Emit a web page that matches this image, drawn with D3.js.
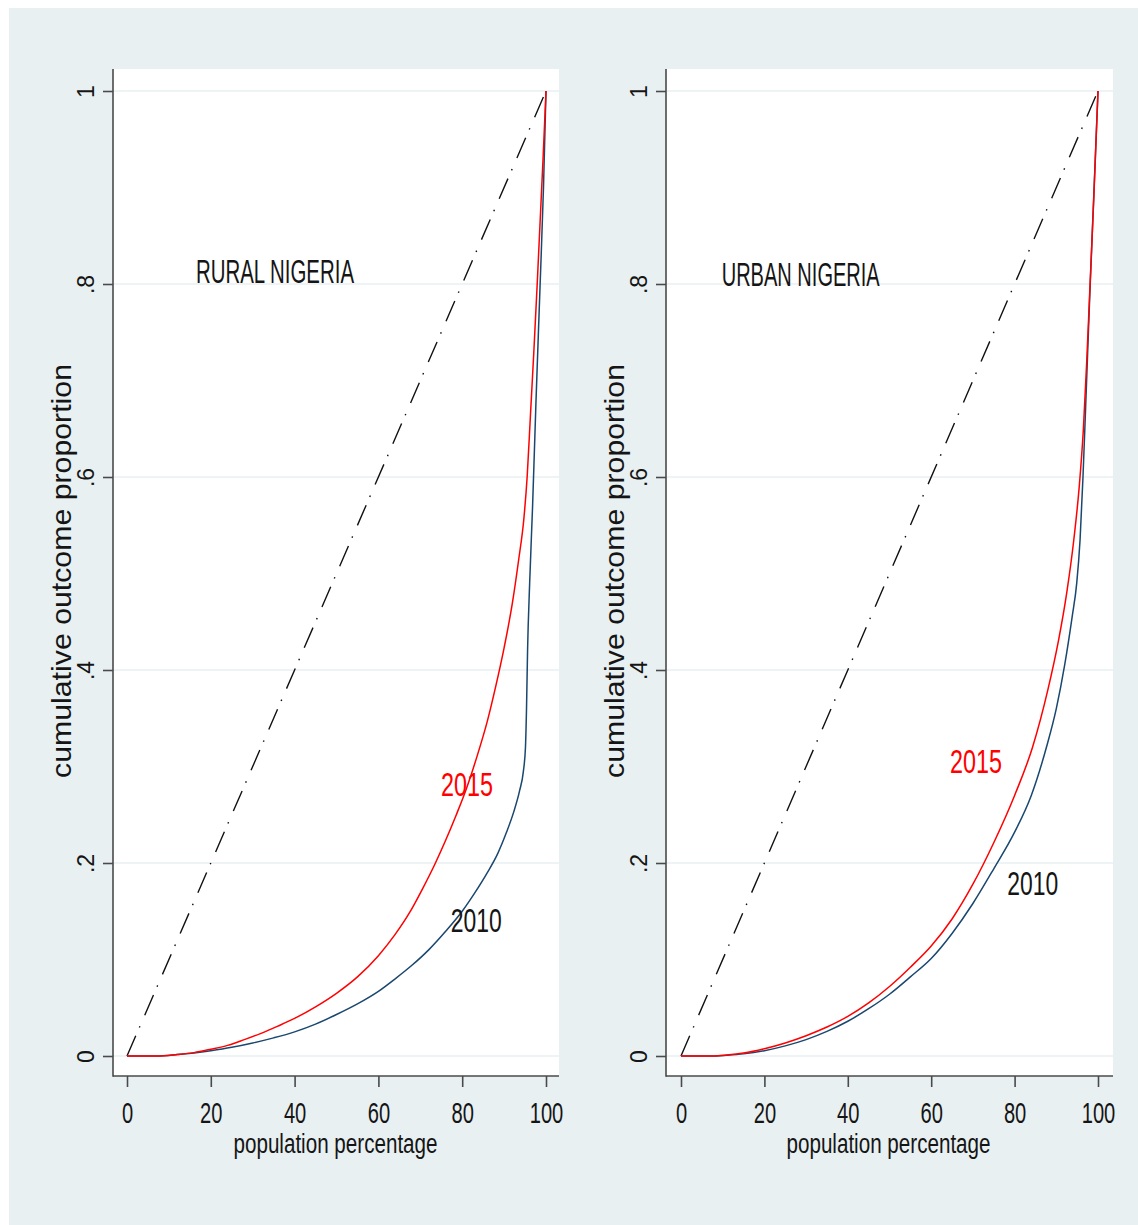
<!DOCTYPE html>
<html>
<head>
<meta charset="utf-8">
<script src="https://cdn.jsdelivr.net/npm/d3@7"></script>
<style>
  body { margin: 0; background: #ffffff; }
  text { font-family: "Liberation Sans", Arial, sans-serif; fill: #151515; }
</style>
</head>
<body>
<script>
"use strict";

// Lorenz curves, [population percentage, cumulative outcome proportion]
var rural2010 = [[0,0],[7,0],[12,0.0015],[16,0.0032],[20,0.0055],[25,0.009],[30,0.0135],[35,0.0188],
    [40,0.025],[45,0.033],[50,0.043],[55,0.054],[60,0.067],[64,0.08],[68,0.094],[72,0.11],[76,0.129],
    [80,0.15],[83,0.169],[86,0.19],[88.5,0.21],[90.5,0.231],[92.3,0.253],[93.7,0.275],[94.6,0.295],
    [95.1,0.32],[95.35,0.36],[95.6,0.42],[96.1,0.49],[96.8,0.57],[97.6,0.677],[98.6,0.8],[99.4,0.9],[100,1]];
var rural2015 = [[0,0],[7.4,0],[12,0.0015],[16,0.0035],[20,0.007],[24,0.011],[28,0.017],[32,0.0235],
    [36,0.031],[40,0.039],[45,0.051],[50,0.065],[55,0.082],[60,0.104],[64,0.126],[67.5,0.149],[70.5,0.173],
    [73.5,0.199],[76,0.223],[78.5,0.249],[81,0.277],[83.5,0.31],[86,0.347],[88,0.383],[90,0.423],[92,0.47],
    [93.5,0.515],[94.7,0.556],[95.5,0.6],[96.3,0.665],[97.1,0.73],[97.9,0.8],[98.6,0.865],[99.3,0.93],[100,1]];
var urban2010 = [[0,0],[7.4,0],[11,0.0008],[15,0.0022],[20,0.0055],[25,0.0105],[30,0.017],[35,0.0255],
    [40,0.036],[45,0.049],[50,0.064],[55,0.082],[60,0.101],[65,0.127],[70,0.158],[75,0.194],[80,0.232],
    [84,0.27],[87.7,0.321],[90,0.36],[92,0.405],[93.8,0.455],[94.9,0.49],[95.7,0.535],[96.4,0.6],
    [97.1,0.68],[98,0.785],[99,0.893],[100,1]];
var urban2015 = [[0,0],[7.4,0],[11,0.001],[15,0.003],[20,0.0075],[25,0.0135],[30,0.021],[35,0.03],
    [40,0.041],[45,0.055],[50,0.072],[55,0.092],[60,0.114],[65,0.142],[70,0.178],[75,0.221],[80,0.27],
    [84.3,0.32],[88,0.38],[90.5,0.43],[92.5,0.48],[94.2,0.535],[95.5,0.59],[96.5,0.65],[97.3,0.72],
    [98,0.79],[99,0.89],[100,1]];
var equality = [[0,0],[100,1]];

var xTicks = [0, 20, 40, 60, 80, 100];
var yTicks = [0, 0.2, 0.4, 0.6, 0.8, 1];
var yTickLabels = ["0", ".2", ".4", ".6", ".8", "1"];
var panelTitles = ["RURAL NIGERIA", "URBAN NIGERIA"];
var seriesLabels = ["2010", "2015"];
var xTitle = "population percentage";
var yTitle = "cumulative outcome proportion";

var W = 1138, H = 1225;
var plotTop = 69, plotBottom = 1076;
var bg = "#e8f0f2";
var navy = "#1a476f", red = "#ff0000";

var svg = d3.select("body").append("svg").attr("width", W).attr("height", H);
svg.append("rect").attr("x", 9).attr("y", 8).attr("width", W - 9).attr("height", H - 8).attr("fill", bg);

var y = d3.scaleLinear().domain([0, 1]).range([1056, 91]);

// layout of each graph
var panels = [
    { left: 113, right: 559, x0: 127, x1: 546, title: [196, 283], lab2015: [441, 796], lab2010: [450.7, 931.5],
      s2010: rural2010, s2015: rural2015 },
    { left: 666, right: 1113, x0: 681, x1: 1098, title: [721.7, 286], lab2015: [950, 772.7], lab2010: [1007.3, 895],
      s2010: urban2010, s2015: urban2015 }
];

panels.forEach(function(p, i){

    var x = d3.scaleLinear().domain([0, 100]).range([p.x0, p.x1]);
    var g = svg.append("g");

    // Plot region and grid
    g.append("rect")
        .attr("x", p.left).attr("y", plotTop)
        .attr("width", p.right - p.left).attr("height", plotBottom - plotTop)
        .attr("fill", "#ffffff");
    g.selectAll(".grid").data(yTicks).enter().append("line")
        .attr("x1", p.left).attr("x2", p.right)
        .attr("y1", function(d){ return y(d); }).attr("y2", function(d){ return y(d); })
        .attr("stroke", bg).attr("stroke-width", 1.6);

    // Curves
    var line = d3.line().x(function(d){ return x(d[0]); }).y(function(d){ return y(d[1]); });
    var curve = d3.line().curve(d3.curveMonotoneX)
        .x(function(d){ return x(d[0]); }).y(function(d){ return y(d[1]); });
    g.append("path").attr("d", line(equality))
        .attr("fill", "none").attr("stroke", "#111").attr("stroke-width", 1.4)
        .attr("stroke-dasharray", "22,9,1.5,12");
    g.append("path").attr("d", curve(p.s2010))
        .attr("fill", "none").attr("stroke", navy).attr("stroke-width", 1.5);
    g.append("path").attr("d", curve(p.s2015))
        .attr("fill", "none").attr("stroke", red).attr("stroke-width", 1.5);

    // Axes
    var xAxis = g.append("g")
        .attr("transform", "translate(0," + plotBottom + ")")
        .call(d3.axisBottom(x).tickValues(xTicks).tickSize(11).tickSizeOuter(0));
    xAxis.select(".domain").remove();
    xAxis.selectAll(".tick line").attr("stroke", "#4a4a4a").attr("stroke-width", 1.6);
    xAxis.selectAll(".tick text")
        .attr("y", 47).attr("dy", 0)
        .attr("font-size", 30).attr("font-family", null).attr("fill", null)
        .attr("textLength", function(d){ return String(d).length * 11.2; })
        .attr("lengthAdjust", "spacingAndGlyphs");

    var yAxis = g.append("g")
        .attr("transform", "translate(" + p.left + ",0)")
        .call(d3.axisLeft(y).tickValues(yTicks).tickSize(10).tickSizeOuter(0)
            .tickFormat(function(d, j){ return yTickLabels[j]; }));
    yAxis.select(".domain").remove();
    yAxis.selectAll(".tick line").attr("stroke", "#4a4a4a").attr("stroke-width", 1.6);
    yAxis.selectAll(".tick text")
        .attr("x", 0).attr("dy", 0)
        .attr("transform", "translate(-19,0) rotate(-90)")
        .attr("text-anchor", "middle")
        .attr("font-size", 23).attr("font-family", null).attr("fill", null);

    g.append("line")
        .attr("x1", p.left).attr("x2", p.left).attr("y1", plotTop).attr("y2", plotBottom + 0.8)
        .attr("stroke", "#4a4a4a").attr("stroke-width", 1.6);
    g.append("line")
        .attr("x1", p.left).attr("x2", p.right).attr("y1", plotBottom).attr("y2", plotBottom)
        .attr("stroke", "#4a4a4a").attr("stroke-width", 1.6);

    // Titles
    g.append("text")
        .attr("x", (p.x0 + p.x1) / 2 - 1).attr("y", 1153)
        .attr("text-anchor", "middle").attr("font-size", 27)
        .attr("textLength", 204).attr("lengthAdjust", "spacingAndGlyphs")
        .text(xTitle);
    g.append("text")
        .attr("transform", "translate(" + (p.left - 42) + ",571) rotate(-90)")
        .attr("text-anchor", "middle").attr("font-size", 28)
        .attr("textLength", 414).attr("lengthAdjust", "spacingAndGlyphs")
        .text(yTitle);

    // Labels inside the graph
    g.append("text")
        .attr("x", p.title[0]).attr("y", p.title[1]).attr("font-size", 34)
        .attr("textLength", 158).attr("lengthAdjust", "spacingAndGlyphs")
        .text(panelTitles[i]);
    g.append("text")
        .attr("x", p.lab2015[0]).attr("y", p.lab2015[1]).attr("font-size", 34)
        .attr("textLength", 52).attr("lengthAdjust", "spacingAndGlyphs")
        .style("fill", red)
        .text(seriesLabels[1]);
    g.append("text")
        .attr("x", p.lab2010[0]).attr("y", p.lab2010[1]).attr("font-size", 34)
        .attr("textLength", 51).attr("lengthAdjust", "spacingAndGlyphs")
        .text(seriesLabels[0]);
});
</script>
</body>
</html>
